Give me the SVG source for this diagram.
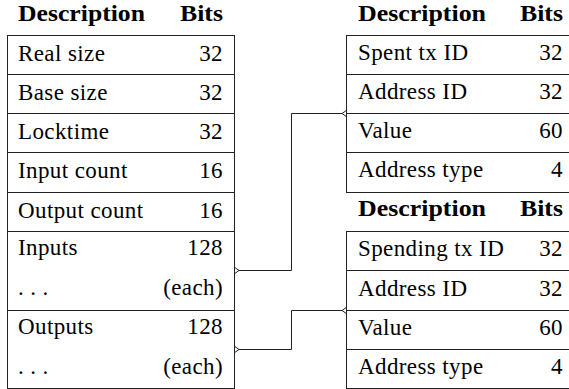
<svg xmlns="http://www.w3.org/2000/svg" width="569" height="389" viewBox="0 0 569 389">
<defs>
<style>
text{font-family:"Liberation Serif","Times New Roman",serif;font-size:23px;letter-spacing:0.4px;fill:#000}
.h{font-weight:bold;letter-spacing:0}
.r{text-anchor:end}
.box{fill:none;stroke:#222;stroke-width:1}
.sep{stroke:#222;stroke-width:1}
.conn{fill:none;stroke:#222;stroke-width:1}
</style>
<marker id="ms" viewBox="-1 -5 8 10" refX="0" refY="0" markerWidth="8" markerHeight="10" markerUnits="userSpaceOnUse" orient="auto">
<path d="M0,-3.2 L4.5,0 L0,3.2 Z" fill="#fff" stroke="#222" stroke-width="1"/>
</marker>
<marker id="me" viewBox="-7 -5 8 10" refX="0" refY="0" markerWidth="8" markerHeight="10" markerUnits="userSpaceOnUse" orient="auto">
<path d="M0,-3.2 L-4.5,0 L0,3.2 Z" fill="#fff" stroke="#222" stroke-width="1"/>
</marker>
</defs>

<g id="connectors">
<path class="conn" d="M234.5,270.5 H291.5 V113.5 H346.5" marker-start="url(#ms)" marker-end="url(#me)"/>
<path class="conn" d="M234.5,349.5 H291.5 V310.5 H346.5" marker-start="url(#ms)" marker-end="url(#me)"/>
</g>

<g id="transaction">
<text class="h" x="18" y="21" textLength="127" lengthAdjust="spacingAndGlyphs">Description</text>
<text class="h r" x="223" y="21" textLength="43" lengthAdjust="spacingAndGlyphs">Bits</text>
<rect class="box" x="7.5" y="35.5" width="227" height="353"/>
<line class="sep" x1="7.5" y1="74.5" x2="234.5" y2="74.5"/>
<line class="sep" x1="7.5" y1="113.5" x2="234.5" y2="113.5"/>
<line class="sep" x1="7.5" y1="152.5" x2="234.5" y2="152.5"/>
<line class="sep" x1="7.5" y1="192.5" x2="234.5" y2="192.5"/>
<line class="sep" x1="7.5" y1="231.5" x2="234.5" y2="231.5"/>
<line class="sep" x1="7.5" y1="310.5" x2="234.5" y2="310.5"/>
<text x="18" y="61">Real size</text><text class="r" x="223" y="61">32</text>
<text x="18" y="100">Base size</text><text class="r" x="223" y="100">32</text>
<text x="18" y="139">Locktime</text><text class="r" x="223" y="139">32</text>
<text x="18" y="178">Input count</text><text class="r" x="223" y="178">16</text>
<text x="18" y="218">Output count</text><text class="r" x="223" y="218">16</text>
<text x="18" y="255">Inputs</text><text class="r" x="223" y="255">128</text>
<text x="18" y="295">. . .</text><text class="r" x="223" y="295">(each)</text>
<text x="18" y="334">Outputs</text><text class="r" x="223" y="334">128</text>
<text x="18" y="374">. . .</text><text class="r" x="223" y="374">(each)</text>
</g>

<g id="input">
<text class="h" x="358" y="21" textLength="128" lengthAdjust="spacingAndGlyphs">Description</text>
<text class="h r" x="563" y="21" textLength="43" lengthAdjust="spacingAndGlyphs">Bits</text>
<rect class="box" x="346.5" y="35.5" width="227" height="157"/>
<line class="sep" x1="346.5" y1="74.5" x2="573.5" y2="74.5"/>
<line class="sep" x1="346.5" y1="113.5" x2="573.5" y2="113.5"/>
<line class="sep" x1="346.5" y1="152.5" x2="573.5" y2="152.5"/>
<text x="358" y="60">Spent tx ID</text><text class="r" x="563" y="60">32</text>
<text x="358" y="99">Address ID</text><text class="r" x="563" y="99">32</text>
<text x="358" y="138">Value</text><text class="r" x="563" y="138">60</text>
<text x="358" y="177">Address type</text><text class="r" x="563" y="177">4</text>
</g>

<g id="output">
<text class="h" x="358" y="216" textLength="128" lengthAdjust="spacingAndGlyphs">Description</text>
<text class="h r" x="563" y="216" textLength="43" lengthAdjust="spacingAndGlyphs">Bits</text>
<rect class="box" x="346.5" y="231.5" width="227" height="157"/>
<line class="sep" x1="346.5" y1="270.5" x2="573.5" y2="270.5"/>
<line class="sep" x1="346.5" y1="310.5" x2="573.5" y2="310.5"/>
<line class="sep" x1="346.5" y1="349.5" x2="573.5" y2="349.5"/>
<text x="358" y="256">Spending tx ID</text><text class="r" x="563" y="256">32</text>
<text x="358" y="296">Address ID</text><text class="r" x="563" y="296">32</text>
<text x="358" y="335">Value</text><text class="r" x="563" y="335">60</text>
<text x="358" y="374">Address type</text><text class="r" x="563" y="374">4</text>
</g>
</svg>
